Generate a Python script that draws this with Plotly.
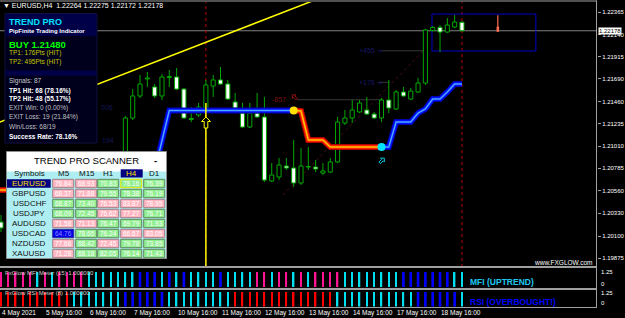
import math
import plotly.graph_objects as go

# ---------------- data ----------------
chart_symbol = "EURUSD,H4"
chart_ohlc = "1.22264 1.22275 1.22172 1.22178"
bid_price = 1.22178

bar_idx = [0] + list(range(17, 64))
open_ = [1.20242, 1.20718, 1.21295, 1.21518, 1.21690, 1.21609, 1.21518, 1.21705, 1.21710, 1.21588,
         1.21290, 1.21325, 1.21396, 1.21619, 1.21680, 1.21639, 1.21457, 1.21345, 1.21204, 1.21345,
         1.21305, 1.20657, 1.20698, 1.20809, 1.20789, 1.20637, 1.20799, 1.20799, 1.20738, 1.20748,
         1.20850, 1.21244, 1.21295, 1.21356, 1.21376, 1.21335, 1.21295, 1.21477, 1.21386, 1.21558,
         1.21487, 1.21558, 1.21649, 1.22180, 1.22212, 1.22165, 1.22216, 1.22264]
high_ = [1.20313, 1.21315, 1.21588, 1.21730, 1.21760, 1.21639, 1.21740, 1.21781, 1.21801, 1.21599,
         1.21406, 1.21447, 1.21680, 1.21730, 1.21811, 1.21680, 1.21548, 1.21447, 1.21447, 1.21548,
         1.21508, 1.20839, 1.20890, 1.20890, 1.21072, 1.20991, 1.21001, 1.20870, 1.20839, 1.20890,
         1.21305, 1.21376, 1.21477, 1.21477, 1.21508, 1.21356, 1.21497, 1.21680, 1.21578, 1.21609,
         1.21599, 1.21700, 1.22196, 1.22225, 1.22236, 1.22307, 1.22337, 1.22275]
low_ = [1.20141, 1.20688, 1.21275, 1.21497, 1.21609, 1.21497, 1.21477, 1.21609, 1.21578, 1.21285,
        1.21254, 1.21305, 1.21376, 1.21508, 1.21629, 1.21477, 1.21376, 1.21194, 1.21194, 1.21295,
        1.20647, 1.20647, 1.20667, 1.20769, 1.20597, 1.20617, 1.20769, 1.20748, 1.20718, 1.20738,
        1.20839, 1.21224, 1.21244, 1.21345, 1.21325, 1.21285, 1.21254, 1.21345, 1.21376, 1.21508,
        1.21477, 1.21548, 1.21629, 1.22170, 1.21963, 1.22155, 1.22206, 1.22172]
close_ = [1.20182, 1.21295, 1.21518, 1.21639, 1.21700, 1.21518, 1.21710, 1.21715, 1.21588, 1.21295,
          1.21280, 1.21406, 1.21629, 1.21680, 1.21639, 1.21487, 1.21396, 1.21204, 1.21345, 1.21305,
          1.20667, 1.20718, 1.20819, 1.20789, 1.20637, 1.20809, 1.20804, 1.20779, 1.20759, 1.20850,
          1.21254, 1.21295, 1.21376, 1.21447, 1.21335, 1.21295, 1.21477, 1.21396, 1.21558, 1.21518,
          1.21568, 1.21649, 1.22186, 1.22212, 1.22165, 1.22236, 1.22266, 1.22178]

# Trend Pro stop line (per bar)
stop_red0_x = [-1, 0, 1]
stop_red0_y = [1.20566, 1.20566, 1.20566]
stop_blue1_x = list(range(21, 41))
stop_blue1_y = [1.20759, 1.21072] + [1.21372] * 18
stop_red1_x = list(range(40, 53))
stop_red1_y = [1.21372, 1.21366, 1.21072, 1.21072, 1.21072, 1.21001, 1.21001, 1.21001, 1.21001,
               1.21001, 1.21001, 1.21001, 1.21001]
stop_blue2_x = list(range(52, 64))
stop_blue2_y = [1.21001, 1.21001, 1.21254, 1.21254, 1.21254, 1.21345, 1.21386, 1.21487, 1.21487,
                1.21558, 1.21639, 1.21639]

# trend line (yellow) and faint dotted projection line
trend_x = [-1, 50]
trend_y = [1.21229, 1.22693]
dot_line_x = [38.5, 57.7]
dot_line_y = [1.20516, 1.21973]

# signal
signal_bar = 28
signal_price = 1.21480
tp1_price = 1.21656
tp2_price = 1.21975

# projection box
proj_x = [58.9, 73.1]
proj_y = [1.21973, 1.22347]
proj_bar = 67.9
proj_ohlc = [1.22219, 1.22334, 1.22168, 1.22168]

price_ticks = [1.22365, 1.22140, 1.21915, 1.21690, 1.21460, 1.21235, 1.21010, 1.20785,
               1.20560, 1.20330, 1.20100, 1.19875]
time_ticks = [0, 6, 12, 18, 24, 30, 36, 42, 48, 54, 60]
time_labels = ["4 May 2021", "5 May 16:00", "6 May 16:00", "7 May 16:00", "10 May 16:00",
               "11 May 16:00", "12 May 16:00", "13 May 16:00", "14 May 16:00", "17 May 16:00",
               "18 May 16:00"]

all_bars = list(range(0, 64))
mfi_codes = "MMMMMCMCMMMMCCCCCCCBBBCBCBCCCCBCCCCMMCMMCMCMMMMCCCCCCCCBBBBBBBCC"
rsi_codes = "RRRRRRRRRRCCCCCCCBBBBBBCCCCCCCCCRRRRRRRRRRRRRRCCCCCCCCCCCBBBBBBC"

panel_lines = [
    ("TREND PRO", "#00E0FF", 9, True),
    ("PipFinite Trading Indicator", "#FFFFFF", 6, True),
    ("BUY 1.21480", "#00FF00", 9.5, True),
    ("TP1: 176Pts (HIT)", "#C8C800", 6.5, False),
    ("TP2: 495Pts (HIT)", "#C8C800", 6.5, False),
    ("Signals: 87", "#C8C8C8", 6.5, False),
    ("TP1 Hit: 68 (78.16%)", "#FFFFFF", 6.5, True),
    ("TP2 Hit: 48 (55.17%)", "#FFFFFF", 6.5, True),
    ("EXIT Win: 0 (0.00%)", "#C0C0C0", 6.5, False),
    ("EXIT Loss: 19 (21.84%)", "#C0C0C0", 6.5, False),
    ("Win/Loss: 68/19", "#C0C0C0", 6.5, False),
    ("Success Rate: 78.16%", "#FFFFFF", 6.5, True),
]
panel_line_y = [22.3, 31, 44.3, 53.3, 62.3, 81, 90.7, 99.3, 108.3, 117.3, 126, 136]

scan_symbols = ["EURUSD", "GBPUSD", "USDCHF", "USDJPY", "AUDUSD", "USDCAD", "NZDUSD", "XAUUSD"]
scan_tf = ["M5", "M15", "H1", "H4", "D1"]
scan_vals = [
    [76.84, 68.93, 70.83, 78.16, 76.39],
    [68.37, 71.88, 79.55, 78.38, 76.19],
    [68.87, 73.40, 76.53, 83.87, 78.95],
    [68.09, 72.45, 76.62, 77.27, 76.71],
    [71.58, 71.13, 76.47, 69.79, 71.93],
    [64.76, 78.65, 76.24, 66.67, 83.05],
    [77.66, 68.42, 72.45, 79.78, 73.85],
    [71.28, 68.18, 82.05, 76.14, 71.43],
]
scan_state = ["PPGGG", "PPGGG", "GGPPP", "GGPPG", "PPGGG", "BGGPP", "PGPGG", "PGGGG"]

# ---------------- layout helpers ----------------
W, H = 625, 318
PW = 597
FONT = "Liberation Sans"
GREEN = "#00A800"


def fx(p):
    return p / PW


def fy(p):
    return 1 - p / H


def note(x, y, text, size, color, xanchor="center", xref="paper", yref="paper", family=FONT, **kw):
    d = dict(xref=xref, yref=yref, x=x, y=y, text=text, showarrow=False, xanchor=xanchor,
             yanchor="middle", font=dict(family=family, size=size, color=color))
    d.update(kw)
    return d


def block_arrow(cx, cy, scale, angle_deg, color, fill="#000000"):
    pts = [(0, -5.5), (4.5, -1), (1.8, -1), (1.8, 5.5), (-1.8, 5.5), (-1.8, -1), (-4.5, -1)]
    a = math.radians(angle_deg)
    out = []
    for x, y in pts:
        xr = x * math.cos(a) - y * math.sin(a)
        yr = x * math.sin(a) + y * math.cos(a)
        out.append((fx(cx + xr * scale), fy(cy + yr * scale)))
    path = "M " + " L ".join(f"{x:.5f},{y:.5f}" for x, y in out) + " Z"
    return dict(type="path", xref="paper", yref="paper", path=path, fillcolor=fill,
                line=dict(color=color, width=1), layer="above")


BAR_PX = 7.317
X0 = -1 / BAR_PX
X1 = (PW - 1) / BAR_PX
Y_TOP = 1.22469
Y_BOT = 1.19787

fig = go.Figure()

# candle bodies
fig.add_trace(go.Bar(
    x=bar_idx, y=[c - o for o, c in zip(open_, close_)], base=open_, width=0.56,
    marker=dict(color=["#000000" if c > o else "#FFFFFF" for o, c in zip(open_, close_)],
                line=dict(color=GREEN, width=1)),
    xaxis="x", yaxis="y", hoverinfo="skip", showlegend=False))

# wicks
wx, wy = [], []
for i, o, h, l, c in zip(bar_idx, open_, high_, low_, close_):
    top, bot = max(o, c), min(o, c)
    wx += [i, i, None, i, i, None]
    wy += [h, top, None, bot, l, None]
fig.add_trace(go.Scatter(x=wx, y=wy, mode="lines", line=dict(color=GREEN, width=1),
                         hoverinfo="skip", showlegend=False))

# yellow trendline
fig.add_trace(go.Scatter(x=trend_x, y=trend_y, mode="lines", line=dict(color="#FFFF00", width=1.5),
                         hoverinfo="skip", showlegend=False))

# stop lines with glow
for xs, ys, cols in [
    (stop_red0_x, stop_red0_y, ("#B00000", "#FF2000", "#FFC800")),
    (stop_blue1_x, stop_blue1_y, ("#0000B0", "#0010FF", "#4AA8FF")),
    (stop_red1_x, stop_red1_y, ("#B00000", "#FF2000", "#FFC800")),
    (stop_blue2_x, stop_blue2_y, ("#0000B0", "#0010FF", "#4AA8FF")),
]:
    for w, c in zip((6, 4, 1.5), cols):
        fig.add_trace(go.Scatter(x=xs, y=ys, mode="lines", line=dict(color=c, width=w),
                                 hoverinfo="skip", showlegend=False))

# signal vertical yellow line
fig.add_trace(go.Scatter(x=[signal_bar, signal_bar], y=[1.21447, Y_BOT], mode="lines",
                         line=dict(color="#FFFF00", width=1.5), hoverinfo="skip", showlegend=False))

# dots
fig.add_trace(go.Scatter(x=[stop_red1_x[0]], y=[stop_red1_y[0]], mode="markers",
                         marker=dict(color="#FFE000", size=8), hoverinfo="skip", showlegend=False))
fig.add_trace(go.Scatter(x=[stop_blue2_x[0]], y=[stop_blue2_y[0]], mode="markers",
                         marker=dict(color="#00E5FF", size=8), hoverinfo="skip", showlegend=False))

# projection candle
fig.add_trace(go.Scatter(x=[proj_bar, proj_bar], y=[proj_ohlc[1], proj_ohlc[2]], mode="lines",
                         line=dict(color="#FF6A50", width=1.2), hoverinfo="skip", showlegend=False))
fig.add_trace(go.Bar(x=[proj_bar], y=[proj_ohlc[0] - proj_ohlc[3]], base=[proj_ohlc[3]], width=0.35,
                     marker=dict(color="#FF6A50", line=dict(width=0)), hoverinfo="skip",
                     showlegend=False))

# MFI / RSI meters
col_map = {"M": "#FF1493", "C": "#00E0F0", "B": "#0000FF", "R": "#FF0000"}
for codes, ax in ((mfi_codes, "y2"), (rsi_codes, "y3")):
    fig.add_trace(go.Bar(
        x=all_bars, y=[1] * len(all_bars), yaxis=ax,
        width=[0.36 if k == "B" else 0.2 for k in codes],
        marker=dict(color=[col_map[k] for k in codes], line=dict(width=0)),
        hoverinfo="skip", showlegend=False))

shapes = []
# dotted red verticals
for xb in (signal_bar, 63):
    shapes.append(dict(type="line", xref="x", yref="y", x0=xb, x1=xb, y0=Y_BOT, y1=Y_TOP,
                       line=dict(color="#C00000", width=1, dash="dot"), layer="below"))
# faint dotted diagonal
shapes.append(dict(type="line", xref="x", yref="y", x0=dot_line_x[0], x1=dot_line_x[1],
                   y0=dot_line_y[0], y1=dot_line_y[1], line=dict(color="#4A1010", width=1, dash="dot"),
                   layer="below"))
# bid line
shapes.append(dict(type="line", xref="paper", yref="y", x0=0, x1=1, y0=bid_price, y1=bid_price,
                   line=dict(color="#808080", width=1), layer="below"))
# target lines
shapes.append(dict(type="line", xref="x", yref="y", x0=40.4, x1=52.2, y0=signal_price, y1=signal_price,
                   line=dict(color="#383838", width=1), layer="below"))
shapes.append(dict(type="line", xref="x", yref="y", x0=51.6, x1=53.2, y0=tp1_price, y1=tp1_price,
                   line=dict(color="#383838", width=1), layer="below"))
shapes.append(dict(type="line", xref="x", yref="y", x0=52.1, x1=57.7, y0=tp2_price, y1=tp2_price,
                   line=dict(color="#383838", width=1), layer="below"))
# projection box
shapes.append(dict(type="rect", xref="x", yref="y", x0=proj_x[0], x1=proj_x[1], y0=proj_y[0],
                   y1=proj_y[1], line=dict(color="#0000C8", width=1), layer="below"))
# signal arrows
shapes.append(block_arrow(206, 122.5, 1.0, 0, "#FFFF00"))
shapes.append(block_arrow(382, 160.5, 0.6, 45, "#00C8E0"))
shapes.append(block_arrow(294.5, 97, 0.55, -45, "#9A1010"))

# frame lines
frame = "#A0A0A0"
shapes.append(dict(type="line", xref="paper", yref="paper", x0=0, x1=fx(PW), y0=fy(1), y1=fy(1),
                   line=dict(color=frame, width=1)))
for yy in (267, 289):
    shapes.append(dict(type="line", xref="paper", yref="paper", x0=0, x1=fx(PW), y0=fy(yy), y1=fy(yy),
                       line=dict(color=frame, width=2)))
shapes.append(dict(type="line", xref="paper", yref="paper", x0=0, x1=fx(PW), y0=fy(307.5),
                   y1=fy(307.5), line=dict(color=frame, width=1)))
shapes.append(dict(type="line", xref="paper", yref="paper", x0=fx(PW - 0.5), x1=fx(PW - 0.5),
                   y0=fy(0.5), y1=fy(308), line=dict(color=frame, width=1)))

# TREND PRO panel
shapes.append(dict(type="rect", xref="paper", yref="paper", x0=fx(5), x1=fx(97), y0=fy(143), y1=fy(13.5),
                   fillcolor="#00001C", line=dict(color="#101040", width=1), layer="above"))
shapes.append(dict(type="rect", xref="paper", yref="paper", x0=fx(5.5), x1=fx(96.5), y0=fy(36),
                   y1=fy(14), fillcolor="#000048", line=dict(width=0), layer="above"))
shapes.append(dict(type="rect", xref="paper", yref="paper", x0=fx(5.5), x1=fx(96.5), y0=fy(75.5),
                   y1=fy(70.5), fillcolor="#000048", line=dict(width=0), layer="above"))

# scanner panel
shapes.append(dict(type="rect", xref="paper", yref="paper", x0=fx(6.5), x1=fx(166.5), y0=fy(258.5),
                   y1=fy(151.5), fillcolor="#AEEEF2", line=dict(color="#909090", width=1), layer="above"))
shapes.append(dict(type="rect", xref="paper", yref="paper", x0=fx(7), x1=fx(166), y0=fy(171.5),
                   y1=fy(152), fillcolor="#FFFFFF", line=dict(width=0), layer="above"))

col_left = [52.7, 75.7, 97.7, 120.7, 143.7]
cell_w = 21
cell_fill = {"P": "#FFB6C1", "G": "#90EE90", "B": "#0000E8"}
cell_border = {"P": "#A08088", "G": "#608860", "B": "#303090"}
annotations = []
for r, (sym, vals, st) in enumerate(zip(scan_symbols, scan_vals, scan_state)):
    top = 179.3 + 10 * r
    if r == 0:
        shapes.append(dict(type="rect", xref="paper", yref="paper", x0=fx(7), x1=fx(50.7),
                           y0=fy(top + 8.4), y1=fy(top), fillcolor="#000080", line=dict(width=0),
                           layer="above"))
    annotations.append(note(fx(29), fy(top + 4.2), sym, 8, "#FFE000" if r == 0 else "#101010"))
    for c, (v, s) in enumerate(zip(vals, st)):
        bcol = "#E8E800" if (r == 0 and c == 3) else cell_border[s]
        shapes.append(dict(type="rect", xref="paper", yref="paper", x0=fx(col_left[c]),
                           x1=fx(col_left[c] + cell_w), y0=fy(top + 8.4), y1=fy(top),
                           fillcolor=cell_fill[s], line=dict(color=bcol, width=1), layer="above"))
        annotations.append(note(fx(col_left[c] + cell_w / 2), fy(top + 4.2), f"{v:.2f}", 6.5,
                                "#FFFFFF" if s != "B" else "#9090FF"))
# header
annotations.append(note(fx(29), fy(173.3), "Symbols", 8, "#101010"))
for c, tf in enumerate(scan_tf):
    if tf == "H4":
        shapes.append(dict(type="rect", xref="paper", yref="paper", x0=fx(col_left[c]),
                           x1=fx(col_left[c] + cell_w + 1), y0=fy(177.5), y1=fy(169.3),
                           fillcolor="#000080", line=dict(width=0), layer="above"))
    annotations.append(note(fx(col_left[c] + cell_w / 2 + 0.5), fy(173.3), tf, 8,
                            "#FFE000" if tf == "H4" else "#101010"))
annotations.append(note(fx(86), fy(160.5), "TREND PRO SCANNER", 9.5, "#000000"))
annotations.append(note(fx(155), fy(160.5), "<b>-</b>", 9.5, "#000000"))

# TREND PRO panel texts
for (txt, col, size, bold), yy in zip(panel_lines, panel_line_y):
    annotations.append(note(fx(7), fy(yy), f"<b>{txt}</b>" if bold else txt, size, col, xanchor="left"))

# chart title
annotations.append(note(fx(1), fy(5.5), f"▼ {chart_symbol}  {chart_ohlc}", 7, "#FFFFFF", xanchor="left"))
# bid price label
annotations.append(note(fx(PW + 1), bid_price, f"{bid_price:.5f}", 6, "#000000", xanchor="left",
                        yref="y", bgcolor="#FFFFFF", borderpad=0))
# time labels
for t, lab in zip(time_ticks, time_labels):
    annotations.append(note(t, fy(312.5), lab, 6.5, "#FFFFFF", xanchor="left", xref="x", xshift=-1))
# meter scale labels
for yy, lab in ((272, "1.25"), (284, "0"), (293, "1.25"), (303, "0")):
    annotations.append(note(fx(PW + 2), fy(yy), lab, 6, "#FFFFFF", xanchor="left"))
annotations.append(note(fx(3), fy(273), "FxGlow MFI Meter (15) 1.000000", 6, "#D0D0D0", xanchor="left"))
annotations.append(note(fx(3), fy(293), "FxGlow RSI Meter (8) 1.000000", 6, "#D0D0D0", xanchor="left"))
annotations.append(note(fx(468), fy(282), "<b>MFI (UPTREND)</b>", 8.5, "#1EC8F0", xanchor="left"))
annotations.append(note(fx(468), fy(302), "<b>RSI (OVERBOUGHT!)</b>", 8.5, "#0000FF", xanchor="left"))
annotations.append(note(fx(594), fy(262), "www.FXGLOW.com", 6.5, "#FFFFFF", xanchor="right"))
# target labels
annotations.append(note(fx(288), signal_price, "-857", 7, "#7A1010", xanchor="right", yref="y"))
annotations.append(note(fx(357), tp1_price, "+176 ⇒", 7, "#181868", xanchor="left", yref="y"))
annotations.append(note(fx(357), tp2_price, "+455 ⇒", 7, "#181868", xanchor="left", yref="y"))
annotations.append(note(fx(99), fy(108), "006", 7, "#16165A", xanchor="left"))
annotations.append(note(fx(100), fy(140), "194", 7, "#16165A", xanchor="left"))

fig.update_layout(
    width=W, height=H, margin=dict(l=0, r=W - PW, t=0, b=0),
    paper_bgcolor="#000000", plot_bgcolor="#000000", barmode="overlay", showlegend=False,
    xaxis=dict(range=[X0, X1], showticklabels=False, showgrid=False, zeroline=False, showline=False,
               ticks=""),
    yaxis=dict(domain=[fy(267), fy(2)], range=[Y_BOT, Y_TOP], side="right", tickvals=price_ticks,
               ticktext=[f"{v:.5f}" for v in price_ticks], ticks="outside", ticklen=3,
               tickcolor="#A0A0A0", tickfont=dict(family=FONT, size=6, color="#FFFFFF"),
               showgrid=False, zeroline=False, showline=False),
    yaxis2=dict(domain=[fy(289), fy(268)], range=[-0.13, 1.27], anchor="x", showticklabels=False,
                showgrid=False, zeroline=False),
    yaxis3=dict(domain=[fy(307), fy(290)], range=[-0.03, 1.14], anchor="x", showticklabels=False,
                showgrid=False, zeroline=False),
    shapes=shapes, annotations=annotations,
)

fig.write_html("out.html")
